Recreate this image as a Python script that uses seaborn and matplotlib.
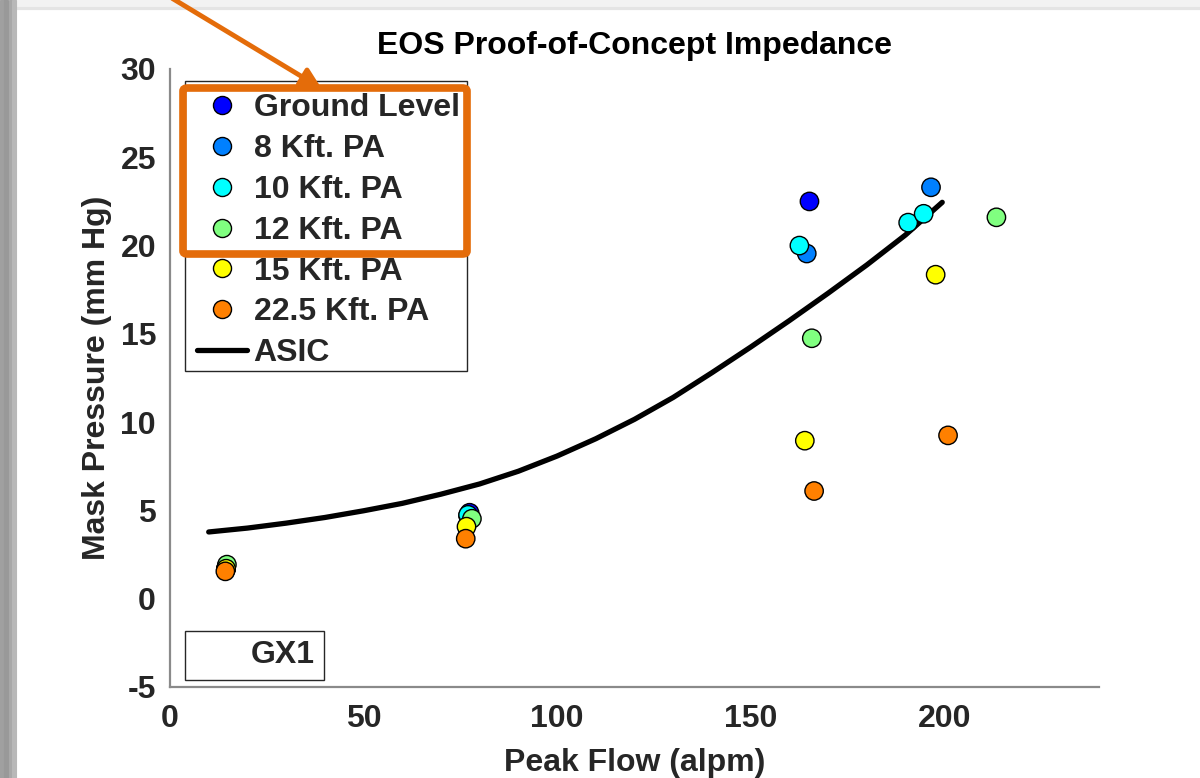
import numpy as np
import pandas as pd
import seaborn as sns
import matplotlib.pyplot as plt
from matplotlib.lines import Line2D
from matplotlib.patches import Rectangle, FancyBboxPatch, FancyArrowPatch

sns.set_theme(style="white", context="paper")
plt.rcParams["font.family"] = ["Liberation Sans", "DejaVu Sans"]
plt.rcParams["font.weight"] = "bold"
plt.rcParams["axes.unicode_minus"] = False

# ---- data ----
altitudes = ["Ground Level", "8 Kft. PA", "10 Kft. PA", "12 Kft. PA",
             "15 Kft. PA", "22.5 Kft. PA"]
colors = ["#0000FF", "#0080FF", "#00FFFF", "#80FF80", "#FFFF00", "#FF8000"]

ground_flow = [14.5, 77.4, 165.2]
ground_press = [1.7, 4.87, 22.5]
kft8_flow = [14.5, 77.0, 164.5, 196.6]
kft8_press = [1.7, 4.7, 19.55, 23.3]
kft10_flow = [14.5, 77.0, 162.6, 190.7, 194.7]
kft10_press = [1.75, 4.75, 20.0, 21.3, 21.8]
kft12_flow = [14.7, 78.0, 165.8, 213.5]
kft12_press = [1.93, 4.53, 14.75, 21.6]
kft15_flow = [14.5, 76.6, 164.0, 197.8]
kft15_press = [1.7, 4.08, 8.95, 18.35]
kft22_flow = [14.3, 76.4, 166.4, 201.0]
kft22_press = [1.55, 3.4, 6.1, 9.25]

asic_flow = [10, 20, 30, 40, 50, 60, 70, 80, 90, 100, 110, 120, 130, 140,
             150, 160, 170, 180, 190, 199.5]
asic_press = [3.78, 4.00, 4.28, 4.60, 4.98, 5.40, 5.92, 6.50, 7.22, 8.08,
              9.06, 10.16, 11.40, 12.80, 14.25, 15.75, 17.30, 18.90, 20.60,
              22.45]

flows = [ground_flow, kft8_flow, kft10_flow, kft12_flow, kft15_flow, kft22_flow]
pressures = [ground_press, kft8_press, kft10_press, kft12_press,
             kft15_press, kft22_press]

df = pd.concat(
    [pd.DataFrame({"flow": f, "pressure": p, "alt": a})
     for f, p, a in zip(flows, pressures, altitudes)],
    ignore_index=True,
)
asic = pd.DataFrame({"flow": asic_flow, "pressure": asic_press})

W, H = 1200, 778


def px(x, y):
    return (x / W, 1 - y / H)


fig = plt.figure(figsize=(12, 7.78), dpi=100)
fig.patch.set_facecolor("white")

# slide background bits
fig.patches.append(Rectangle(px(0, 9), 1, 9 / H, transform=fig.transFigure,
                             color="#f2f2f2", zorder=0))
fig.patches.append(Rectangle(px(0, 9), 1, 2 / H, transform=fig.transFigure,
                             color="#e4e4e4", zorder=0))
for x0, c in [(0, "#a0a0a0"), (4, "#999999"), (9, "#a8a8a8"), (12, "#b8b8b8")]:
    fig.patches.append(Rectangle(px(x0, H), 4 / W, 1, transform=fig.transFigure,
                                 color=c, zorder=0))

l, b = px(170, 687)
r, t = px(1099, 69)
ax = fig.add_axes([l, b, r - l, t - b])
ax.set_facecolor("none")

sns.lineplot(data=asic, x="flow", y="pressure", color="black", linewidth=3.8,
             ax=ax, zorder=2)
sns.scatterplot(data=df, x="flow", y="pressure", hue="alt", hue_order=altitudes,
                palette=dict(zip(altitudes, colors)), s=175, edgecolor="black",
                linewidth=1.0, legend=False, ax=ax, zorder=3)

ax.set_xlim(0, 240)
ax.set_ylim(-5, 30)
ax.set_xticks([0, 50, 100, 150, 200])
ax.set_yticks([-5, 0, 5, 10, 15, 20, 25, 30])

text_c = "#262626"
fs = 23
ax.set_title("EOS Proof-of-Concept Impedance", fontsize=fs, fontweight="bold",
             color="black", pad=11)
ax.set_xlabel("Peak Flow (alpm)", fontsize=fs, fontweight="bold", color=text_c,
              labelpad=10)
ax.set_ylabel("Mask Pressure (mm Hg)", fontsize=fs, fontweight="bold",
              color=text_c, labelpad=6)

for side in ["top", "right"]:
    ax.spines[side].set_visible(False)
for side in ["left", "bottom"]:
    ax.spines[side].set_color("#8a8a8a")
    ax.spines[side].set_linewidth(1.6)
ax.tick_params(axis="both", direction="in", length=9, width=1.0,
               color="#555555", labelsize=fs, labelcolor=text_c, pad=10)
ax.tick_params(axis="x", pad=12)
for lab in ax.get_xticklabels() + ax.get_yticklabels():
    lab.set_fontweight("bold")

# legend text/handles without frame; frame drawn as the box MATLAB shows
handles = [Line2D([], [], marker="o", linestyle="none", markersize=13,
                  markerfacecolor=c, markeredgecolor="black",
                  markeredgewidth=1.0) for c in colors]
handles.append(Line2D([], [], color="black", linewidth=3.8))
leg = ax.legend(handles, altitudes + ["ASIC"], loc="upper left",
                bbox_to_anchor=px(185, 81), bbox_transform=fig.transFigure,
                borderaxespad=0, prop={"weight": "bold", "size": fs},
                frameon=False, handlelength=1.55, handletextpad=0.22,
                labelspacing=0.34, borderpad=0.38)
leg.set_zorder(6)
ax.add_artist(leg)
lx0, ly0 = px(185, 371)
lx1, ly1 = px(467, 81)
ax.add_patch(Rectangle((lx0, ly0), lx1 - lx0, ly1 - ly0,
                       transform=fig.transFigure, facecolor="white",
                       edgecolor=text_c, linewidth=1.0, zorder=4,
                       clip_on=False))

gx = ax.legend([Line2D([], [], color="none")], ["GX1"], loc="lower left",
               bbox_to_anchor=px(185, 680), bbox_transform=fig.transFigure,
               borderaxespad=0, prop={"weight": "bold", "size": fs},
               frameon=True, fancybox=False, framealpha=1, edgecolor=text_c,
               handlelength=1.45, handletextpad=0.3, borderpad=0.3)
gx.get_frame().set_linewidth(1.0)

# orange callout box and arrow
orange = "#E46C0A"
x0, y0 = px(183, 254)
x1, y1 = px(467, 88)
fig.patches.append(FancyBboxPatch((x0, y0), x1 - x0, y1 - y0,
                                  boxstyle="round,pad=0,rounding_size=0.004",
                                  transform=fig.transFigure, fill=False,
                                  edgecolor=orange, linewidth=5.5, zorder=10))
fig.patches.append(FancyArrowPatch(px(170, -3), px(324, 90),
                                   transform=fig.transFigure,
                                   arrowstyle="-|>,head_length=12,head_width=6",
                                   mutation_scale=1, color=orange, linewidth=3.5,
                                   zorder=10))

fig.savefig("out.png", dpi=100, facecolor=fig.get_facecolor())
